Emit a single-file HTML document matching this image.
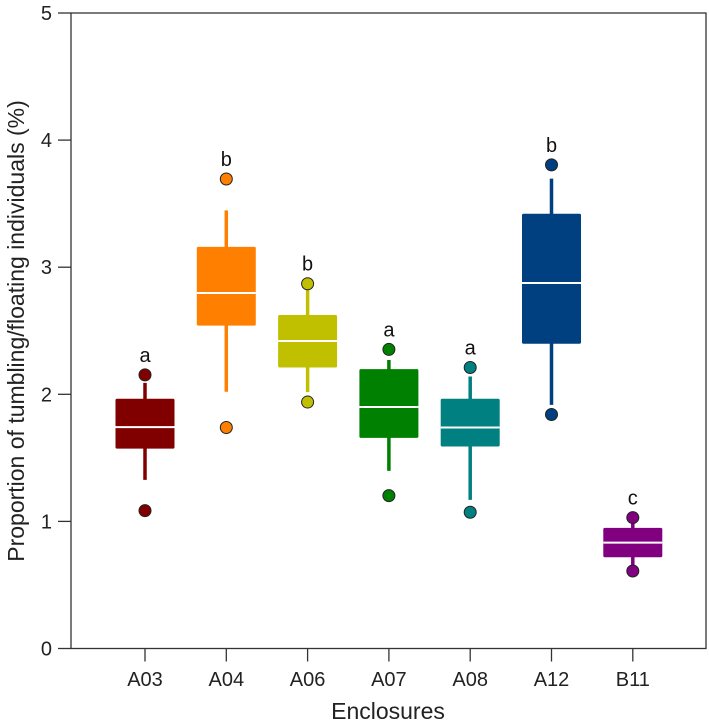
<!DOCTYPE html>
<html><head><meta charset="utf-8"><style>body{margin:0;background:#fff}svg{display:block;font-family:"Liberation Sans",Arial,sans-serif}</style></head>
<body>
<svg id="chart" width="709" height="727" viewBox="0 0 709 727" xmlns="http://www.w3.org/2000/svg"></svg>
<script>
const categories=["A03","A04","A06","A07","A08","A12","B11"];
const colors=["#800000","#FF8000","#C0C000","#008000","#008080","#003F80","#800080"];
const q1=[1.573,2.54,2.211,1.657,1.589,2.398,0.718];
const medians=[1.742,2.797,2.419,1.9,1.739,2.876,0.833];
const q3=[1.965,3.16,2.624,2.198,1.965,3.421,0.949];
const whiskerLow=[1.327,2.02,2.017,1.398,1.169,1.917,0.64];
const whiskerHigh=[2.09,3.447,2.87,2.27,2.14,3.697,0.986];
const outlierHigh=[2.153,3.694,2.87,2.353,2.211,3.805,1.03];
const outlierLow=[1.085,1.739,1.939,1.203,1.072,1.841,0.61];
const letters=["a","b","b","a","a","b","c"];
const yTicks=[0,1,2,3,4,5];

const svg=document.getElementById('chart');
const NS="http://www.w3.org/2000/svg";
const L=71,R=706,T=13,B=648.5,yMax=5;
const y=v=>B-(B-T)*v/yMax;
const x0=145,step=81.3;
const x=i=>x0+i*step;
const hw=29.5;
function el(t,a,p){const e=document.createElementNS(NS,t);for(const k in a)e.setAttribute(k,a[k]);(p||svg).appendChild(e);return e;}

let fr=el('rect',{x:L,y:T,width:R-L,height:B-T,fill:'none',stroke:'#333','stroke-width':1.3});



yTicks.forEach(v=>{
  let t=el('line',{x1:58,x2:L,y1:y(v),y2:y(v),stroke:'#333','stroke-width':1.3});
  
  
  let tx=el('text',{x:52,y:y(v)+7,'text-anchor':'end','font-size':20,fill:'#222'});
  tx.textContent=v;
  
  
});

categories.forEach((c,i)=>{
  const cx=x(i),col=colors[i];
  let t=el('line',{x1:cx,x2:cx,y1:B,y2:B+13,stroke:'#333','stroke-width':1.3});
  
  
  let tl=el('text',{x:cx,y:686,'text-anchor':'middle','font-size':20,fill:'#222'});
  tl.textContent=c;
  
  
  const g=el('g',{});
  
  
  el('line',{x1:cx,x2:cx,y1:y(whiskerHigh[i]),y2:y(whiskerLow[i]),stroke:col,'stroke-width':3.5},g);
  el('rect',{x:cx-hw,y:y(q3[i]),width:hw*2,height:y(q1[i])-y(q3[i]),fill:col,rx:1.5},g);
  el('line',{x1:cx-hw,x2:cx+hw,y1:y(medians[i]),y2:y(medians[i]),stroke:'#fff','stroke-width':2},g);
  [outlierHigh[i],outlierLow[i]].forEach(v=>{
    let o=el('circle',{cx:cx,cy:y(v),r:6,fill:col,stroke:'#222','stroke-width':1},g);
    
    
  });
  let lt=el('text',{x:cx,y:y(outlierHigh[i])-13,'text-anchor':'middle','font-size':20,fill:'#111'});
  lt.textContent=letters[i];
  
  
});

let xt=el('text',{x:388,y:719,'text-anchor':'middle','font-size':23,fill:'#222'});
xt.textContent='Enclosures';


let yt=el('text',{x:0,y:0,'text-anchor':'middle','font-size':23,fill:'#222',transform:'translate(24,331) rotate(-90)'});
yt.textContent='Proportion of tumbling/floating individuals (%)';


</script>
</body></html>
